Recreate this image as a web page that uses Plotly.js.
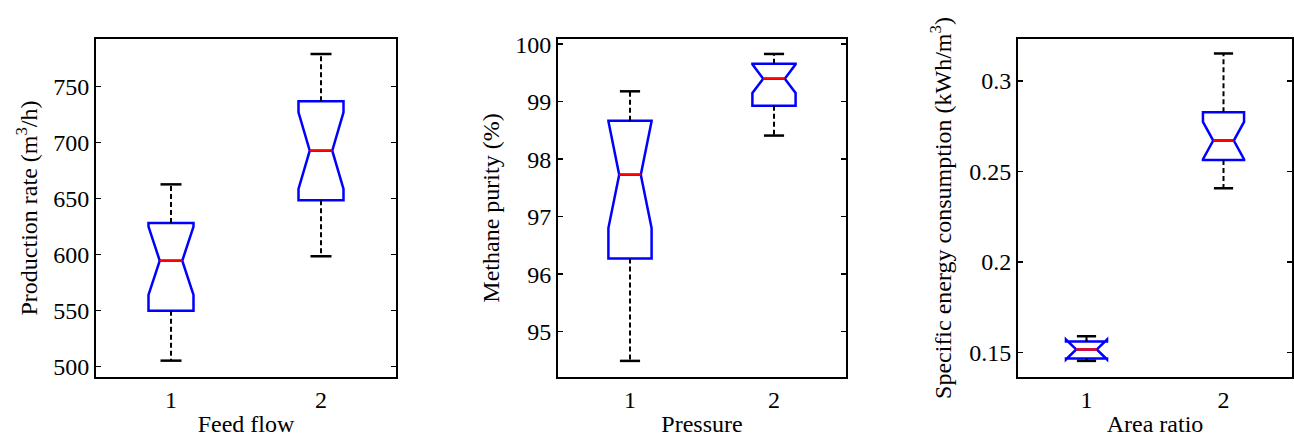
<!DOCTYPE html>
<html>
<head>
<meta charset="utf-8">
<script src="https://cdn.plot.ly/plotly-3.0.1.min.js"></script>
<style>html,body{margin:0;padding:0;background:#fff;}#chart{width:1294px;height:440px;}</style>
</head>
<body>
<div id="chart"></div>
<script>
// ---- data ----
var categories = [1, 2];
var tickLabels = ['1', '2'];

// Panel 1: Production rate vs Feed flow
var prodQ1 = [550.0, 648.6];
var prodMedian = [594.6, 692.9];
var prodQ3 = [628.3, 737.0];
var prodLow = [505.4, 598.6];
var prodHigh = [662.8, 779.2];
var prodNotch = [30.5, 34.2];

// Panel 2: Methane purity vs Pressure
var purQ1 = [96.27, 98.93];
var purMedian = [97.73, 99.40];
var purQ3 = [98.67, 99.66];
var purLow = [94.49, 98.41];
var purHigh = [99.18, 99.83];
var purNotch = [0.93, 0.25];

// Panel 3: Specific energy consumption vs Area ratio
var secQ1 = [0.1467, 0.2563];
var secMedian = [0.1517, 0.2670];
var secQ3 = [0.1561, 0.2827];
var secLow = [0.1454, 0.2407];
var secHigh = [0.1590, 0.3151];
var secNotch = [0.0055, 0.0103];

// ---- style ----
var FONT = 'Liberation Serif, Times New Roman, serif';
var FS = 24;
var BOXW = 0.30, CAPW = 0.14, MEDW = 0.15;

function panelTraces(q1, med, q3, lo, hi, notch, xa, ya) {
  var traces = [];
  traces.push({
    type: 'box', x: categories, q1: q1, median: med, q3: q3,
    lowerfence: q1, upperfence: q3, notchspan: notch, notched: true,
    notchwidth: 0.25, width: BOXW, whiskerwidth: 0,
    boxpoints: false, line: {color: '#0000ff', width: 2.5},
    fillcolor: 'rgba(0,0,0,0)', xaxis: xa, yaxis: ya, hoverinfo: 'skip'
  });
  var wx = [], wy = [], cx = [], cy = [], mx = [], my = [];
  for (var i = 0; i < categories.length; i++) {
    var c = categories[i];
    wx.push(c, c, null, c, c, null);
    wy.push(q1[i], lo[i], null, q3[i], hi[i], null);
    cx.push(c - CAPW / 2, c + CAPW / 2, null, c - CAPW / 2, c + CAPW / 2, null);
    cy.push(lo[i], lo[i], null, hi[i], hi[i], null);
    mx.push(c - MEDW / 2, c + MEDW / 2, null);
    my.push(med[i], med[i], null);
  }
  traces.push({type: 'scatter', mode: 'lines', x: wx, y: wy, xaxis: xa, yaxis: ya,
    line: {color: '#000', width: 2, dash: '5px,3px'}, hoverinfo: 'skip'});
  traces.push({type: 'scatter', mode: 'lines', x: cx, y: cy, xaxis: xa, yaxis: ya,
    line: {color: '#000', width: 2.5}, hoverinfo: 'skip'});
  traces.push({type: 'scatter', mode: 'lines', x: mx, y: my, xaxis: xa, yaxis: ya,
    line: {color: '#ff0000', width: 2.5}, hoverinfo: 'skip'});
  return traces;
}

var data = []
  .concat(panelTraces(prodQ1, prodMedian, prodQ3, prodLow, prodHigh, prodNotch, 'x', 'y'))
  .concat(panelTraces(purQ1, purMedian, purQ3, purLow, purHigh, purNotch, 'x2', 'y2'))
  .concat(panelTraces(secQ1, secMedian, secQ3, secLow, secHigh, secNotch, 'x3', 'y3'));

var W = 1294, H = 440;
var yDom = [1 - 377 / H, 1 - 39 / H];
function xAxis(l, r, title, anchor) {
  return {
    domain: [l / W, r / W], anchor: anchor, range: [0.5, 2.5],
    tickvals: categories, ticktext: tickLabels, ticks: '',
    showline: true, mirror: true, linecolor: '#000', linewidth: 2,
    showgrid: false, zeroline: false, fixedrange: true,
    tickfont: {family: FONT, size: FS, color: '#000'},
    title: {text: title, font: {family: FONT, size: FS, color: '#000'}, standoff: 3}
  };
}
function yAxis(range, dtick, title, anchor, standoff) {
  return {
    domain: yDom, anchor: anchor, range: range, dtick: dtick,
    ticks: 'inside', ticklen: 5, tickwidth: 1.5, tickcolor: '#000',
    showline: true, mirror: 'ticks', linecolor: '#000', linewidth: 2,
    showgrid: false, zeroline: false, fixedrange: true,
    tickfont: {family: FONT, size: FS, color: '#000'},
    title: {text: title, font: {family: FONT, size: FS, color: '#000'}, standoff: standoff}
  };
}

var layout = {
  width: W, height: H, margin: {l: 0, r: 0, t: 0, b: 0},
  paper_bgcolor: '#fff', plot_bgcolor: '#fff', showlegend: false,
  font: {family: FONT, size: FS, color: '#000'},
  xaxis: xAxis(96, 396, 'Feed flow', 'y'),
  yaxis: yAxis([490.8, 792.6], 50, 'Production rate (m<sup>3</sup>/h)', 'x', 9),
  xaxis2: xAxis(558, 846, 'Pressure', 'y2'),
  yaxis2: yAxis([94.21, 100.09], 1, 'Methane purity (%)', 'x2', 9),
  xaxis3: xAxis(1018, 1292, 'Area ratio', 'y3'),
  yaxis3: yAxis([0.1365, 0.3231], 0.05, 'Specific energy consumption (kWh/m<sup>3</sup>)', 'x3', 11)
};

Plotly.newPlot('chart', data, layout, {displayModeBar: false, staticPlot: true});
</script>
</body>
</html>
